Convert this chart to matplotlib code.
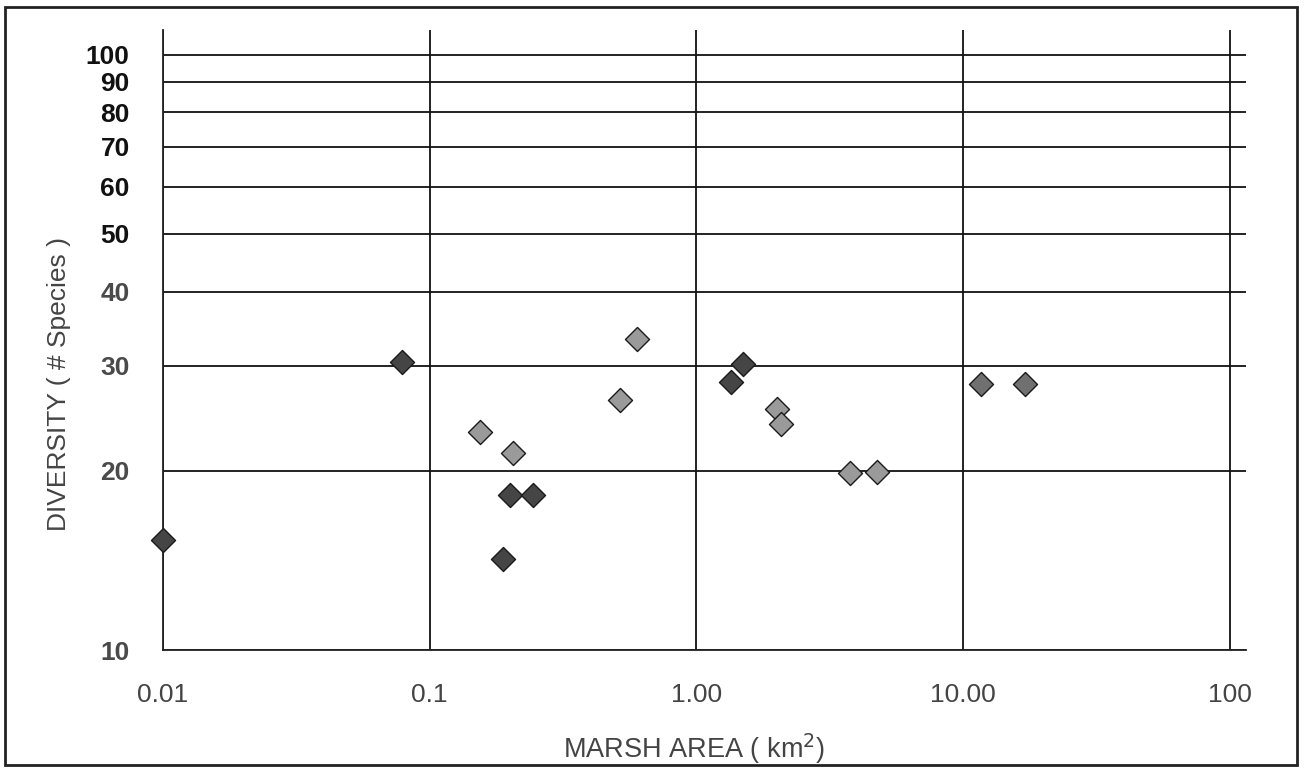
import matplotlib.pyplot as plt
from matplotlib.patches import Rectangle
from matplotlib.ticker import FixedLocator, NullLocator

plt.rcParams["font.family"] = ["Liberation Sans", "DejaVu Sans"]

# marsh area (km2) and diversity (# species), grouped by marker shade
area_dark = [0.0100, 0.079, 0.200, 0.245, 0.189, 1.35, 1.49]
div_dark = [15.3, 30.5, 18.2, 18.2, 14.2, 28.2, 30.2]

area_light = [0.154, 0.205, 0.515, 0.601, 2.00, 2.07, 3.78, 4.76]
div_light = [23.2, 21.4, 26.3, 33.3, 25.4, 24.0, 19.8, 19.9]

area_mid = [11.7, 17.1]
div_mid = [28.0, 28.0]

x_ticks = [0.01, 0.1, 1, 10, 100]
x_labels = ["0.01", "0.1", "1.00", "10.00", "100"]
y_ticks = [10, 20, 30, 40, 50, 60, 70, 80, 90, 100]
y_labels = [str(v) for v in y_ticks]

fig = plt.figure(figsize=(13.04, 7.68), dpi=100)
ax = fig.add_axes([0.125, 0.1536, 0.8305, 0.8074])

ax.set_xscale("log")
ax.set_yscale("log")
ax.set_xlim(0.01, 115)
ax.set_ylim(10, 110)

ax.xaxis.set_major_locator(FixedLocator(x_ticks))
ax.xaxis.set_minor_locator(NullLocator())
ax.yaxis.set_major_locator(FixedLocator(y_ticks))
ax.yaxis.set_minor_locator(NullLocator())
ax.set_xticklabels(x_labels, fontsize=19, color="#444444")
ax.set_yticklabels(y_labels, fontsize=19, fontweight="bold")
for lbl, v in zip(ax.get_yticklabels(), y_ticks):
    lbl.set_color("#111111" if v >= 50 else "#4a4a4a")

ax.tick_params(axis="both", length=0)
ax.tick_params(axis="y", pad=24)
ax.tick_params(axis="x", pad=24)

ax.grid(True, which="major", color="#111111", linewidth=1.3)
ax.set_axisbelow(True)
for side in ["top", "right"]:
    ax.spines[side].set_visible(False)
for side in ["left", "bottom"]:
    ax.spines[side].set_color("#222222")
    ax.spines[side].set_linewidth(1.3)

marker_kw = dict(marker="D", s=150, edgecolors="#1a1a1a", linewidths=1.0,
                 zorder=3, clip_on=False)
ax.scatter(area_light, div_light, color="#9a9a9a", **marker_kw)
ax.scatter(area_mid, div_mid, color="#707070", **marker_kw)
ax.scatter(area_dark, div_dark, color="#454545", **marker_kw)

ax.set_xlabel("MARSH AREA ( km$^{2}$)", fontsize=19.5, color="#444444")
ax.xaxis.set_label_coords(0.49, -0.132)
ax.set_ylabel("DIVERSITY ( # Species )", fontsize=19, color="#444444")
ax.yaxis.label.set_va("center")
ax.yaxis.set_label_coords(-0.096, 0.429)

fig.patches.append(Rectangle((0.004, 0.004), 0.991, 0.987,
                             transform=fig.transFigure, fill=False,
                             edgecolor="#222222", linewidth=2))

fig.savefig("out.png", dpi=100)
